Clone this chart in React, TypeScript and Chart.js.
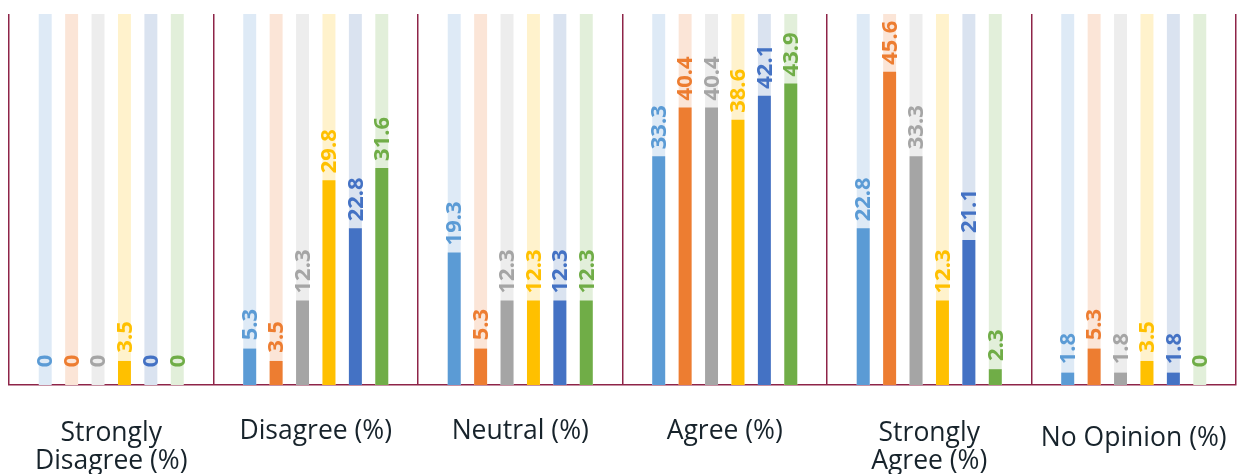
import React, { useEffect, useRef } from "react";
import { Chart, registerables } from "chart.js";

Chart.register(...registerables);

const categories: (string | string[])[] = [
  ["Strongly", "Disagree (%)"],
  "Disagree (%)",
  "Neutral (%)",
  "Agree (%)",
  ["Strongly", "Agree (%)"],
  "No Opinion (%)",
];

const seriesNames = ["Series 1", "Series 2", "Series 3", "Series 4", "Series 5", "Series 6"];
const s1 = [0, 5.3, 19.3, 33.3, 22.8, 1.8];
const s2 = [0, 3.5, 5.3, 40.4, 45.6, 5.3];
const s3 = [0, 12.3, 12.3, 40.4, 33.3, 1.8];
const s4 = [3.5, 29.8, 12.3, 38.6, 12.3, 3.5];
const s5 = [0, 22.8, 12.3, 42.1, 21.1, 1.8];
const s6 = [0, 31.6, 12.3, 43.9, 2.3, 0];
const seriesValues = [s1, s2, s3, s4, s5, s6];

const yMax = 54;
const trackValues = [yMax, yMax, yMax, yMax, yMax, yMax];

const colors = ["#5B9BD5", "#ED7D31", "#A5A5A5", "#FFC000", "#4472C4", "#70AD47"];
const trackColors = ["#DEEAF6", "#FBE5D7", "#EDEDED", "#FFF2CC", "#DAE3F0", "#E2EFDA"];
const lineColor = "#8E2448";

const labelPlugin = {
  id: "rotatedValueLabels",
  afterDatasetsDraw(chart: any) {
    const ctx = chart.ctx;
    chart.data.datasets.forEach((ds: any, di: number) => {
      if (!ds.isValue) return;
      const meta = chart.getDatasetMeta(di);
      meta.data.forEach((el: any, i: number) => {
        const v = ds.data[i];
        const text = String(v);
        ctx.save();
        ctx.font = "bold 22px 'Open Sans'";
        const w = ctx.measureText(text).width;
        const off = Math.max(7, 24 - w / 2);
        ctx.translate(el.x, el.y - off);
        ctx.rotate(-Math.PI / 2);
        ctx.textAlign = "left";
        ctx.textBaseline = "middle";
        ctx.fillStyle = ds.labelColor;
        ctx.fillText(text, 0, 1);
        ctx.restore();
      });
    });
  },
};

export default function App() {
  const ref = useRef<HTMLCanvasElement>(null);
  useEffect(() => {
    document.body.style.margin = "0";
    const valueSets = seriesValues.map((vals, i) => ({
      label: seriesNames[i],
      data: vals,
      backgroundColor: colors[i],
      stack: "s" + i,
      order: 0,
      isValue: true,
      labelColor: colors[i],
      categoryPercentage: 0.775,
      barPercentage: 0.49,
    }));
    const trackSets = seriesValues.map((_, i) => ({
      label: seriesNames[i] + " track",
      data: trackValues,
      backgroundColor: trackColors[i],
      stack: "s" + i,
      order: 1,
      isValue: false,
      categoryPercentage: 0.775,
      barPercentage: 0.49,
    }));
    const chart = new Chart(ref.current!, {
      type: "bar",
      data: { labels: categories, datasets: [...valueSets, ...trackSets] as any },
      options: {
        animation: false,
        responsive: false,
        maintainAspectRatio: false,
        layout: { padding: { left: 9, right: 2, top: 14, bottom: 0 } },
        plugins: { legend: { display: false }, tooltip: { enabled: false } },
        scales: {
          x: {
            afterFit: (scale: any) => {
              scale.height = 89;
              scale.paddingLeft = 0;
              scale.paddingRight = 0;
            },
            grid: { display: true, offset: true, color: lineColor, lineWidth: 1.5, drawTicks: false },
            border: { display: true, color: lineColor, width: 1.5 },
            ticks: {
              color: "#17232B",
              padding: 34,
              maxRotation: 0,
              autoSkip: false,
              font: (c: any) => {
                const lab = categories[c.index];
                const single = !Array.isArray(lab);
                let lh = 1.06;
                if (single) lh = c.index === 5 ? 1.5 : 0.96;
                return { family: "'Open Sans'", size: 26.5, lineHeight: lh } as any;
              },
            },
          },
          y: {
            display: false,
            stacked: false,
            min: 0,
            max: yMax,
          },
        },
      },
      plugins: [labelPlugin],
    });
    return () => chart.destroy();
  }, []);
  return <canvas ref={ref} width={1238} height={474} style={{ display: "block" }} />;
}
